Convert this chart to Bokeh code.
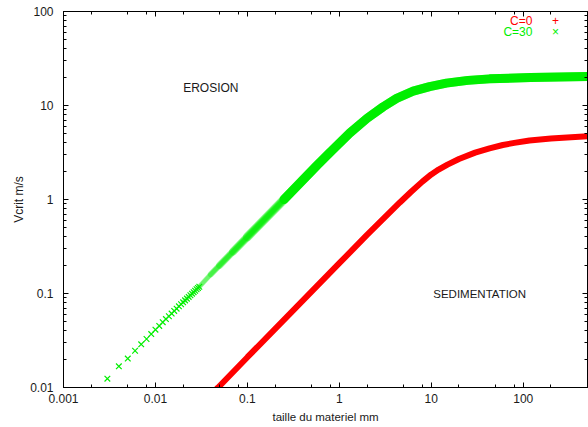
from bokeh.plotting import figure
from bokeh.models import Range1d, LogAxis, FixedTicker, Label
from bokeh.embed import file_html
from bokeh.resources import INLINE

# ---- tick data ----
x_ticks = [0.001, 0.01, 0.1, 1, 10, 100]
x_tick_labels = ["0.001", "0.01", "0.1", "1", "10", "100"]
y_ticks = [0.01, 0.1, 1, 10, 100]
y_tick_labels = ["0.01", "0.1", "1", "10", "100"]
x_minor_mult = [2, 5, 8]
y_minor_mult = [2, 3, 4, 5, 6, 7, 8, 9]

# ---- C=30 series: sparse markers at small sizes ----
c30_x = [0.003, 0.004, 0.005, 0.006, 0.007, 0.008, 0.009, 0.010, 0.011, 0.012,
         0.013, 0.014, 0.015, 0.016, 0.017, 0.018, 0.019, 0.020, 0.021, 0.022,
         0.023, 0.024, 0.025, 0.026, 0.027, 0.028, 0.029, 0.030]
c30_y = [0.0124, 0.0168, 0.0203, 0.0246, 0.0288, 0.0328, 0.0370, 0.0412, 0.0452, 0.0495,
         0.0534, 0.0573, 0.0612, 0.0652, 0.0690, 0.0730, 0.0768, 0.0806, 0.0845, 0.0882,
         0.0920, 0.0958, 0.0995, 0.1032, 0.1070, 0.1110, 0.1145, 0.1180]

# ---- C=30 series: dense part (markers overlap into a band) ----
c30_band_x = [0.02, 0.03, 0.04, 0.05, 0.07, 0.1, 0.25, 0.57, 0.8, 1.3, 2.0, 3.0, 4.2,
              6.35, 9.6, 14.6, 25, 43, 120, 500]
c30_band_y = [0.081, 0.118, 0.16, 0.20, 0.28, 0.40, 1.0, 2.3, 3.2, 5.1, 7.3, 9.7, 11.9,
              14.2, 15.9, 17.3, 18.5, 19.2, 19.8, 20.3]

# ---- C=0 series (dense band) ----
c0_x = [0.04, 0.048, 0.1, 0.3, 1.0, 2.0, 4.55, 6, 8, 10, 12, 15, 20, 30, 43, 60, 80, 117, 200, 300, 500]
c0_y = [0.0084, 0.01, 0.021, 0.063, 0.21, 0.42, 0.93, 1.2, 1.55, 1.85, 2.08, 2.35, 2.7, 3.15,
        3.5, 3.8, 4.0, 4.25, 4.45, 4.57, 4.7]

RED = "#ff0000"
GREEN = "#00ee00"
FONT = "Liberation Sans"

p = figure(width=588, height=427, x_axis_type="log", y_axis_type="log",
           x_range=Range1d(0.001, 500), y_range=Range1d(0.01, 100),
           output_backend="svg", toolbar_location=None,
           min_border_left=63, min_border_right=1, min_border_top=11, min_border_bottom=40)

p.background_fill_color = "white"
p.border_fill_color = "white"
p.outline_line_color = "black"
p.outline_line_width = 1
p.xgrid.visible = False
p.ygrid.visible = False

decades = [1e-3, 1e-2, 1e-1, 1, 10, 100]
x_minor = [m * d for d in decades for m in x_minor_mult]
y_decades = [1e-2, 1e-1, 1, 10]
y_minor = [m * d for d in y_decades for m in y_minor_mult]


def style(ax, labels=True):
    ax.major_tick_in = 5
    ax.major_tick_out = 0
    ax.minor_tick_in = 3
    ax.minor_tick_out = 0
    ax.axis_line_color = "black"
    ax.major_tick_line_color = "black"
    ax.minor_tick_line_color = "black"
    if labels:
        ax.major_label_text_font = FONT
        ax.major_label_text_font_size = "12px"
        ax.major_label_text_color = "#1a1a1a"
        ax.axis_label_text_font = FONT
        ax.axis_label_text_font_size = "11.5px"
        ax.axis_label_text_font_style = "normal"
        ax.axis_label_text_color = "#1a1a1a"
    else:
        ax.major_label_text_font_size = "1px"
        ax.major_label_text_alpha = 0
        ax.major_label_standoff = 0


xa = p.xaxis[0]
xa.ticker = FixedTicker(ticks=x_ticks, minor_ticks=x_minor)
xa.major_label_overrides = {t: l for t, l in zip(x_ticks, x_tick_labels)}
xa.axis_label = "taille du materiel mm"
style(xa)
xa.major_label_standoff = 6
xa.axis_label_standoff = 5

ya = p.yaxis[0]
ya.ticker = FixedTicker(ticks=y_ticks, minor_ticks=y_minor)
ya.major_label_overrides = {t: l for t, l in zip(y_ticks, y_tick_labels)}
ya.axis_label = "Vcrit m/s"
style(ya)
ya.axis_label_text_font_size = "12px"
ya.major_label_standoff = 10
ya.axis_label_standoff = 1

top = LogAxis(ticker=FixedTicker(ticks=x_ticks, minor_ticks=x_minor))
style(top, labels=False)
p.add_layout(top, "above")
right = LogAxis(ticker=FixedTicker(ticks=y_ticks, minor_ticks=y_minor))
style(right, labels=False)
p.add_layout(right, "right")

# C=0 dense band
p.line(c0_x, c0_y, line_color=RED, line_width=6)

# C=30 band: markers build up gradually into a solid band
for i, w in enumerate([4, 5, 6, 7, 8, 9]):
    p.line(c30_band_x[i:], c30_band_y[i:], line_color=GREEN, line_width=w, line_alpha=0.35,
           line_cap="round")
p.line(c30_band_x[6:], c30_band_y[6:], line_color=GREEN, line_width=9, line_alpha=1.0,
       line_cap="round")
p.scatter(c30_x, c30_y, marker="x", size=8, line_color=GREEN, line_width=1.2)

# region labels
p.add_layout(Label(x=0.04, y=15.5, text="EROSION", text_align="center", text_baseline="middle",
                   text_font=FONT, text_font_size="12px", text_color="#1a1a1a"))
p.add_layout(Label(x=33.6, y=0.098, text="SEDIMENTATION", text_align="center", text_baseline="middle",
                   text_font=FONT, text_font_size="11.5px", text_color="#1a1a1a"))

# key
p.add_layout(Label(x=126, y=80, text="C=0", text_align="right", text_baseline="middle",
                   text_font=FONT, text_font_size="12px", text_color=RED))
p.add_layout(Label(x=224, y=80, text="+", text_align="center", text_baseline="middle",
                   text_font=FONT, text_font_size="12px", text_color=RED))
p.add_layout(Label(x=126, y=60, text="C=30", text_align="right", text_baseline="middle",
                   text_font=FONT, text_font_size="12px", text_color=GREEN))
p.add_layout(Label(x=224, y=60, text="\u00d7", text_align="center", text_baseline="middle",
                   text_font=FONT, text_font_size="12px", text_color=GREEN))

open("out.html", "w").write(file_html(p, INLINE))
